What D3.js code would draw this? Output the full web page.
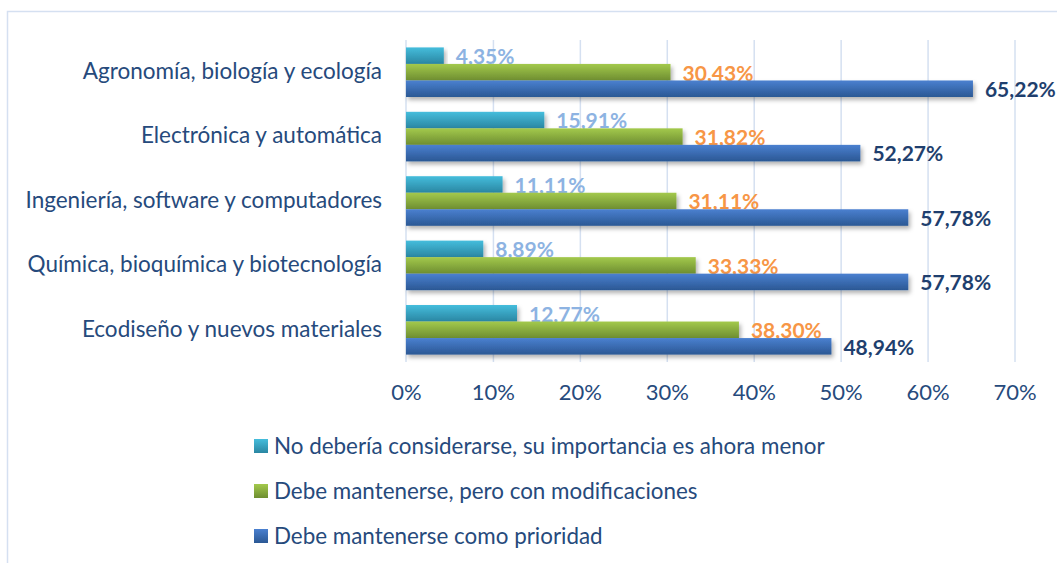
<!DOCTYPE html>
<html>
<head>
<meta charset="utf-8">
<script src="https://cdn.jsdelivr.net/npm/d3@7"></script>
<style>
  body { margin: 0; background: #ffffff; }
  svg { display: block; font-family: Lato, "Open Sans", sans-serif; }
</style>
</head>
<body>
<div id="grafico"></div>
<script>
// Datos
var categorias = [
    "Agronomía, biología y ecología",
    "Electrónica y automática",
    "Ingeniería, software y computadores",
    "Química, bioquímica y biotecnología",
    "Ecodiseño y nuevos materiales"
];
var series = [
    "No debería considerarse, su importancia es ahora menor",
    "Debe mantenerse, pero con modificaciones",
    "Debe mantenerse como prioridad"
];
var noConsiderar = [4.35, 15.91, 11.11, 8.89, 12.77];
var mantenerModif = [30.43, 31.82, 31.11, 33.33, 38.30];
var prioridad = [65.22, 52.27, 57.78, 57.78, 48.94];
var ticksX = [0, 10, 20, 30, 40, 50, 60, 70];

var valores = [noConsiderar, mantenerModif, prioridad];

// Colores (arriba / abajo del degradado) y color de la etiqueta
var colores = [
    { top: "#45bddc", bottom: "#2a86a2", label: "#8db3e2" },
    { top: "#a3c94c", bottom: "#6e8e31", label: "#f79646" },
    { top: "#4a80d0", bottom: "#2b5894", label: "#1f3f6e" }
];
var colorTexto = "#264a7c";

var width = 1057, height = 563;

var svg = d3.select("#grafico").append("svg")
    .attr("width", width)
    .attr("height", height);

// degradados y sombra
var defs = svg.append("defs");
colores.forEach(function (c, i) {
    var g = defs.append("linearGradient")
        .attr("id", "grad" + i)
        .attr("x1", 0).attr("y1", 0).attr("x2", 0).attr("y2", 1);
    g.append("stop").attr("offset", "0%").attr("stop-color", c.top);
    g.append("stop").attr("offset", "100%").attr("stop-color", c.bottom);
});
var sombra = defs.append("filter").attr("id", "sombra")
    .attr("x", "-5%").attr("y", "-30%").attr("width", "115%").attr("height", "180%");
sombra.append("feDropShadow")
    .attr("dx", 2).attr("dy", 3)
    .attr("stdDeviation", 2)
    .attr("flood-color", "#000")
    .attr("flood-opacity", 0.3);

// marco del grafico
svg.append("rect")
    .attr("x", 7.5).attr("y", 11.5)
    .attr("width", 1060).attr("height", 600)
    .attr("fill", "none")
    .attr("stroke", "#d5e0f1")
    .attr("stroke-width", 1.5);

// Escalas
var x = d3.scaleLinear()
    .domain([0, 70])
    .range([406, 1014.5]);

var y = d3.scaleBand()
    .domain(categorias)
    .range([40, 362])
    .paddingInner(0.23)
    .paddingOuter(0.115);

var ySerie = d3.scaleBand()
    .domain(d3.range(series.length))
    .range([0, y.bandwidth()]);

// Grid vertical
svg.append("g")
    .attr("class", "grid")
    .attr("transform", "translate(0,362)")
    .call(d3.axisBottom(x).tickValues(ticksX.slice(1)).tickSize(-322).tickFormat(""))
    .call(function (g) {
        g.select(".domain").remove();
        g.selectAll("line").attr("stroke", "#d5e0f1").attr("stroke-width", 1.5);
    });

// eje vertical (linea del 0%)
svg.append("line")
    .attr("x1", x(0)).attr("x2", x(0))
    .attr("y1", 40).attr("y2", 362)
    .attr("stroke", "#d5e0f1").attr("stroke-width", 1.5);

// Eje X
svg.append("g")
    .attr("transform", "translate(0,362)")
    .call(d3.axisBottom(x).tickValues(ticksX).tickSize(0).tickPadding(22)
        .tickFormat(function (d) { return d + "%"; }))
    .call(function (g) {
        g.select(".domain").remove();
        g.selectAll("text")
            .attr("fill", colorTexto)
            .style("font-size", "22px")
            .style("font-family", "Lato, sans-serif");
    });

// Eje Y (categorias)
svg.append("g")
    .attr("transform", "translate(" + x(0) + ",0)")
    .call(d3.axisLeft(y).tickSize(0).tickPadding(24))
    .call(function (g) {
        g.select(".domain").remove();
        g.selectAll("text")
            .attr("fill", colorTexto)
            .attr("dy", "0.3em")
            .style("font-size", "22.5px")
            .style("font-family", "Lato, sans-serif");
    });

// Barras
valores.forEach(function (serie, s) {
    var grupo = svg.append("g").attr("class", "serie" + s);

    grupo.selectAll("rect")
        .data(serie)
        .enter().append("rect")
        .attr("x", x(0))
        .attr("y", function (d, i) { return y(categorias[i]) + ySerie(s); })
        .attr("width", function (d) { return x(d) - x(0); })
        .attr("height", ySerie.bandwidth())
        .attr("fill", "url(#grad" + s + ")")
        .attr("filter", "url(#sombra)");

    grupo.selectAll("text")
        .data(serie)
        .enter().append("text")
        .attr("x", function (d) { return x(d) + 12; })
        .attr("y", function (d, i) { return y(categorias[i]) + ySerie(s) + ySerie.bandwidth() / 2 + 1; })
        .attr("dy", "0.35em")
        .attr("fill", colores[s].label)
        .style("font-size", "21px")
        .style("font-weight", "bold")
        .text(function (d) { return d.toFixed(2).replace(".", ",") + "%"; });
});

// Leyenda
var leyenda = svg.append("g").attr("class", "leyenda");
var filas = leyenda.selectAll("g")
    .data(series)
    .enter().append("g")
    .attr("transform", function (d, i) { return "translate(254," + (446 + i * 45) + ")"; });

filas.append("rect")
    .attr("x", 0).attr("y", -7)
    .attr("width", 14).attr("height", 14)
    .attr("fill", function (d, i) { return "url(#grad" + i + ")"; });

filas.append("text")
    .attr("x", 20)
    .attr("y", 0)
    .attr("dy", "0.35em")
    .attr("fill", colorTexto)
    .style("font-size", "22.4px")
    .text(function (d) { return d; });
</script>
</body>
</html>
